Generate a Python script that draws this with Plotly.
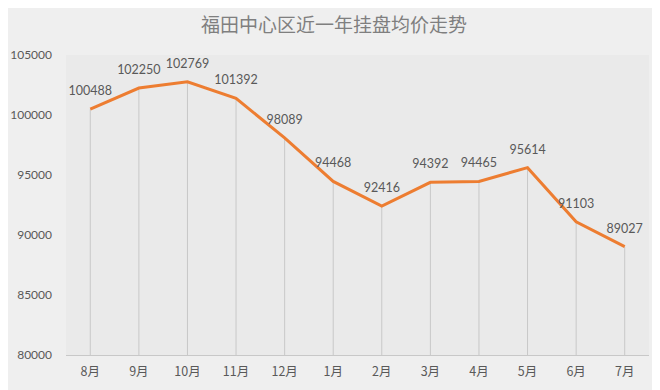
import plotly.graph_objects as go

months = ["8月", "9月", "10月", "11月", "12月", "1月", "2月", "3月", "4月", "5月", "6月", "7月"]
prices = [100488, 102250, 102769, 101392, 98089, 94468, 92416, 94392, 94465, 95614, 91103, 89027]
y_ticks = [80000, 85000, 90000, 95000, 100000, 105000]
y_base = 80000

num_font = "Lato, 'Noto Sans CJK SC', sans-serif"
cjk_font = "'Noto Sans CJK SC', sans-serif"

fig = go.Figure()
fig.add_trace(go.Scatter(
    x=months,
    y=prices,
    mode="lines+markers+text",
    line=dict(color="#ED7D31", width=3),
    marker=dict(size=16, color="rgba(0,0,0,0)"),
    text=[str(v) for v in prices],
    textposition="top center",
    textfont=dict(family=num_font, size=12.5, color="#595959"),
    error_y=dict(
        type="data",
        symmetric=False,
        array=[0] * len(prices),
        arrayminus=[v - y_base for v in prices],
        color="#c8c8c8",
        thickness=1,
        width=0,
    ),
    cliponaxis=False,
    hoverinfo="x+y",
))

fig.update_layout(
    width=652,
    height=382,
    margin=dict(l=58, r=11, t=47, b=35, autoexpand=False),
    paper_bgcolor="#efefef",
    plot_bgcolor="#eaeaea",
    showlegend=False,
    title=dict(
        text="福田中心区近一年挂盘均价走势",
        x=0.5,
        xanchor="center",
        y=0.955,
        yanchor="middle",
        font=dict(family=cjk_font, size=19, color="#7f7f7f"),
    ),
    xaxis=dict(
        type="category",
        range=[-0.5, 11.5],
        automargin=False,
        showgrid=False,
        showline=True,
        linecolor="#c8c8c8",
        linewidth=1,
        ticks="",
        ticklabelstandoff=5,
        tickfont=dict(family=cjk_font, size=12.5, color="#595959"),
        zeroline=False,
    ),
    yaxis=dict(
        range=[80000, 105000],
        automargin=False,
        tickvals=y_ticks,
        ticktext=[str(v) for v in y_ticks],
        showgrid=False,
        showline=False,
        zeroline=False,
        ticks="",
        ticklabelstandoff=13,
        tickfont=dict(family=num_font, size=12, color="#595959"),
    ),
)

fig.write_html("out.html")
